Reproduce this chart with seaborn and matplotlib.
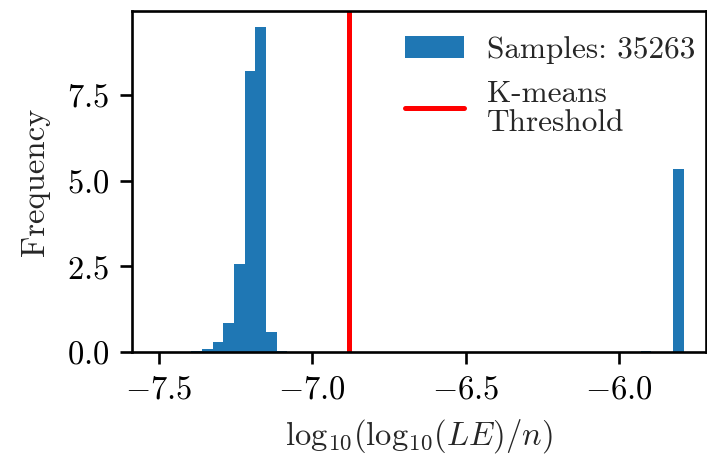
import numpy as np
import pandas as pd
import matplotlib
matplotlib.use("Agg")
import matplotlib.pyplot as plt
import seaborn as sns

# ---- data ----
bin_start = -7.534
bin_stop = -5.790
n_bins = 50
density = [0.00, 0.00, 0.00, 0.00, 0.04, 0.10, 0.29, 0.86, 2.58, 8.20,
           9.47, 0.58, 0.04, 0.00, 0.00, 0.00, 0.00, 0.00, 0.00, 0.00,
           0.00, 0.00, 0.00, 0.00, 0.00, 0.00, 0.00, 0.00, 0.00, 0.00,
           0.00, 0.00, 0.00, 0.00, 0.00, 0.00, 0.00, 0.00, 0.00, 0.00,
           0.00, 0.00, 0.00, 0.00, 0.00, 0.00, 0.05, 0.00, 0.00, 5.33]
threshold = -6.880
n_samples = 35263
hist_label = f"Samples: {n_samples}"
line_label = "K-means\nThreshold"
xticks = [-7.5, -7.0, -6.5, -6.0]
yticks = [0.0, 2.5, 5.0, 7.5]

edges = np.linspace(bin_start, bin_stop, n_bins + 1)
centers = (edges[:-1] + edges[1:]) / 2
df = pd.DataFrame({"x": centers, "w": density})

FS = 23.5
LFS = 22.5
sns.set_style("ticks")
plt.rcParams.update({
    "font.family": "serif",
    "font.serif": ["cmr10", "DejaVu Serif"],
    "mathtext.fontset": "cm",
    "axes.formatter.use_mathtext": True,
    "axes.unicode_minus": True,
    "font.size": FS,
})

fig = plt.figure(figsize=(7.07, 4.58), dpi=100)
ax = fig.add_axes([132 / 707, 1 - 352.3 / 458, (706 - 132) / 707, (352.3 - 11) / 458])

sns.histplot(data=df, x="x", weights="w", bins=edges.tolist(), stat="count",
             color="#1f77b4", alpha=1, linewidth=0, label=hist_label, ax=ax)
ax.axvline(threshold, color="red", lw=3.6, label=line_label)

ax.set_xlim(-7.587, -5.717)
ax.set_xticks(xticks)
ax.set_yticks(yticks)
ax.set_xlabel(r"$\mathrm{log}_{10}(\mathrm{log}_{10}(LE)/n)$", fontsize=FS, labelpad=9)
ax.set_ylabel("Frequency", fontsize=FS, labelpad=12)
ax.tick_params(direction="out", length=8.5, width=1.9, pad=8, colors="black", labelsize=FS)
for s in ax.spines.values():
    s.set_linewidth(1.9)
    s.set_color("black")

handles, labels = ax.get_legend_handles_labels()
order = [labels.index(hist_label), labels.index(line_label)]
leg = ax.legend([handles[i] for i in order], [labels[i] for i in order],
                loc="upper left", bbox_to_anchor=(0.453, 0.963), borderaxespad=0,
                frameon=False, fontsize=LFS, handlelength=1.9,
                handletextpad=0.75, labelspacing=0.5)
for t in leg.get_texts():
    t.set_linespacing(1.05)

fig.savefig("out.png", dpi=100)
